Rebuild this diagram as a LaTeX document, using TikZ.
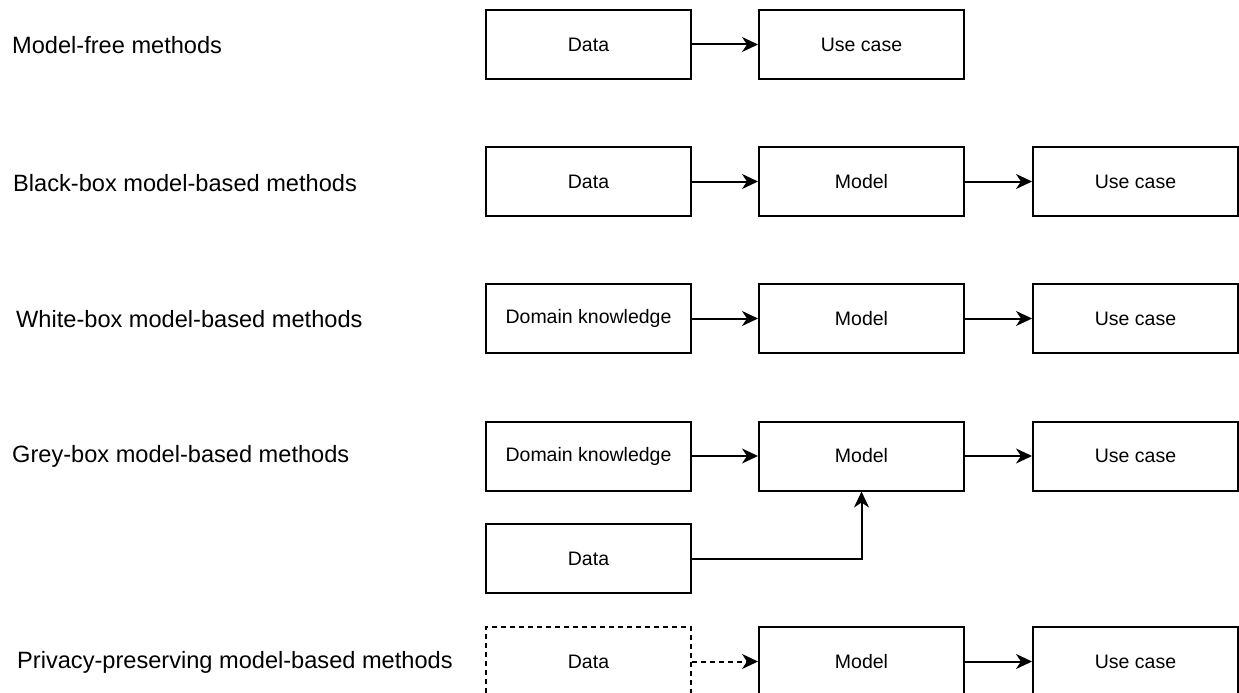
\documentclass[tikz,border=0pt]{standalone}
\usepackage{fontspec}
\setmainfont{Liberation Sans}
\usetikzlibrary{arrows.meta}

\begin{document}
\begin{tikzpicture}[x=1pt, y=-1pt,
    box/.style={draw, line width=2pt, minimum width=205pt, minimum height=69pt, inner sep=0pt, font=\fontsize{19.5}{23}\selectfont},
    lbl/.style={anchor=west, inner sep=0pt, font=\fontsize{23.6}{28}\selectfont},
    arr/.style={line width=2pt, -{Stealth[length=16pt, width=15pt, inset=5pt]}},
    dashline/.style={dash pattern=on 5pt off 4pt}]
    \useasboundingbox (0,0) rectangle (1239,693);
    % row labels
    \node[lbl] (l1) at (12,45) {Model-free methods};
    \node[lbl] (l2) at (13,183) {Black-box model-based methods};
    \node[lbl] (l3) at (16,319) {White-box model-based methods};
    \node[lbl] (l4) at (12,456) {Grey-box model-based methods};
    \node[lbl] (l5) at (17,662) {Privacy-preserving model-based methods};
    % boxes
    \node[box] (d1) at (588.5,44.5) {Data};
    \node[box] (u1) at (861.5,44.5) {Use case};
    \node[box] (d2) at (588.5,181.5) {Data};
    \node[box] (m2) at (861.5,181.5) {Model};
    \node[box] (u2) at (1135.5,181.5) {Use case};
    \node[box] (k3) at (588.5,318.5) {Domain knowledge};
    \node[box] (m3) at (861.5,318.5) {Model};
    \node[box] (u3) at (1135.5,318.5) {Use case};
    \node[box] (k4) at (588.5,456) {Domain knowledge};
    \node[box] (m4) at (861.5,456) {Model};
    \node[box] (u4) at (1135.5,456) {Use case};
    \node[box] (d4) at (588.5,558.5) {Data};
    \node[box, dashline] (d5) at (588.5,661.5) {Data};
    \node[box] (m5) at (861.5,661.5) {Model};
    \node[box] (u5) at (1135.5,661.5) {Use case};
    % connectors
    \draw[arr] (d1) -- (u1);
    \draw[arr] (d2) -- (m2); \draw[arr] (m2) -- (u2);
    \draw[arr] (k3) -- (m3); \draw[arr] (m3) -- (u3);
    \draw[arr] (k4) -- (m4); \draw[arr] (m4) -- (u4);
    \draw[arr] (d4.east) -| (m4.south);
    \draw[arr, dashline] (d5) -- (m5); \draw[arr] (m5) -- (u5);
\end{tikzpicture}
\end{document}
